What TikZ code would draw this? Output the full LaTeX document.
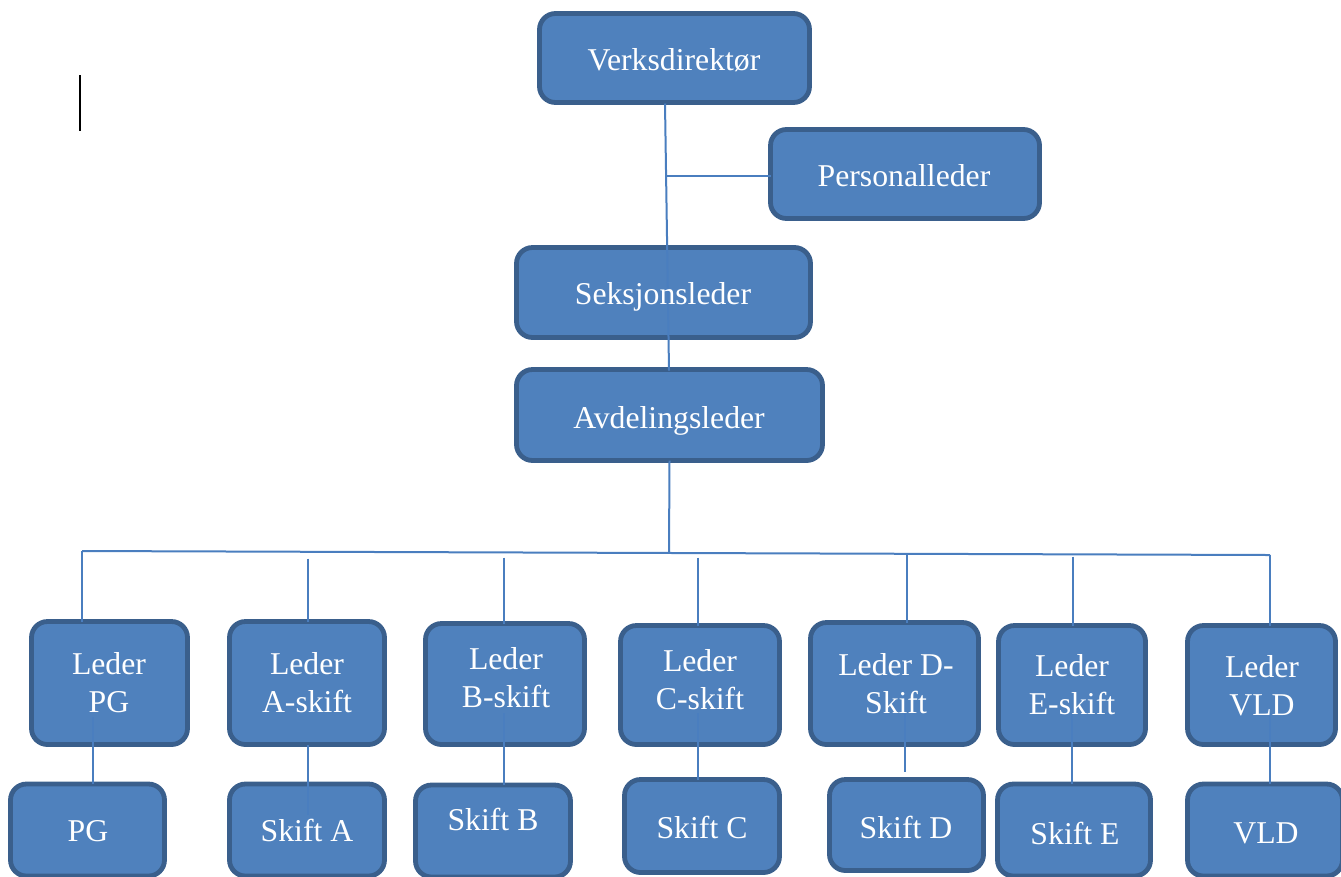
\documentclass[tikz,border=0pt]{standalone}
\usepackage{fontspec}
\setmainfont{Liberation Serif}
\usetikzlibrary{calc}
\definecolor{boxfill}{HTML}{4F81BD}
\definecolor{boxedge}{HTML}{3A5F8C}
\definecolor{linkblue}{HTML}{4A7EBF}
\tikzset{
  orgbox/.style 2 args={draw=boxedge, fill=boxfill, line width=3.6pt,
    rounded corners=12pt, minimum width=#1*0.75pt, minimum height=#2*0.75pt,
    inner sep=0pt, outer sep=0pt},
  boxtext/.style={text=white, font=\fontsize{23.8pt}{28.5pt}\selectfont,
    align=center, inner sep=0pt},
  link/.style={draw=linkblue, line width=1.5pt},
}
\begin{document}
\begin{tikzpicture}[x=0.75pt,y=-0.75pt]
\useasboundingbox (0,0) rectangle (1341,876);
\clip (0,0) rectangle (1341,876);

% upper chain
\node[orgbox={270}{89}] (verk) at (674.5,58) {};
\node[orgbox={269}{89}] (pers) at (905,174) {};
\node[orgbox={294}{90}] (seks) at (663.5,292.5) {};
\node[orgbox={306}{91}] (avd)  at (669.5,415) {};

% team leaders
\node[orgbox={156}{123}] (lpg) at (109.5,683) {};
\node[orgbox={155}{123}] (la)  at (307,683) {};
\node[orgbox={159}{121}] (lb)  at (505,684) {};
\node[orgbox={159}{119}] (lc)  at (700,685) {};
\node[orgbox={168}{122}] (ld)  at (894.5,683.5) {};
\node[orgbox={147}{119}] (le)  at (1072,685) {};
\node[orgbox={148}{119}] (lv)  at (1261.5,685) {};

% teams
\node[orgbox={154}{92}] (pg) at (87.5,830) {};
\node[orgbox={155}{92}] (sa) at (307,830) {};
\node[orgbox={155}{92}] (sb) at (493,831) {};
\node[orgbox={155}{93}] (sc) at (702,826) {};
\node[orgbox={154}{91}] (sd) at (906.5,825) {};
\node[orgbox={153}{92}] (se) at (1074,830) {};
\node[orgbox={155}{92}] (sv) at (1265,830) {};

% bus line and junctions
\coordinate (busL) at (82,551);
\coordinate (busR) at (1270,555);
\coordinate (busM) at (669,553);
\coordinate (persJ) at (666,176);

% connectors
\draw[link] ($(verk.south)+(-9.5,1)$) -- ($(avd.north)+(-0.5,1)$);
\draw[link] (persJ) -- (persJ -| pers.west);
\draw[link] (avd.south) -- (busM);
\draw[link] (busL) -- (busR);

\draw[link] (busL) -- ($(lpg.north)+(-27.5,0)$);
\draw[link] ($(la.north)+(1,-63)$) -- ($(la.north)+(1,0)$);
\draw[link] ($(lb.north)+(-1,-66)$) -- ($(lb.north)+(-1,0)$);
\draw[link] ($(lc.north)+(-2,-68)$) -- ($(lc.north)+(-2,0)$);
\draw[link] ($(ld.north)+(12.5,-68)$) -- ($(ld.north)+(12.5,0)$);
\draw[link] ($(le.north)+(1,-69)$) -- ($(le.north)+(1,0)$);
\draw[link] (busR) -- ($(lv.north)+(8.5,0)$);

\draw[link] ($(lpg.center)+(-16.5,34)$) -- ($(pg.north)+(5.5,0)$);
\draw[link] ($(la.south)+(1,0)$) -- ($(sa.north)+(1,31)$);
\draw[link] ($(lb.center)+(-1,29)$) -- ($(sb.north)+(11,0)$);
\draw[link] ($(lc.center)+(-2,28)$) -- ($(sc.north)+(-4,0)$);
\draw[link] ($(ld.center)+(10.5,29.5)$) -- ($(sd.north)+(-1.5,-8)$);
\draw[link] ($(le.center)+(0,28)$) -- ($(se.north)+(-2,0)$);
\draw[link] ($(lv.center)+(8.5,28)$) -- ($(sv.north)+(5,0)$);

% labels
\node[boxtext] (tverk) at (674,60) {Verksdirektør};
\node[boxtext] (tpers) at (904,176) {Personalleder};
\node[boxtext] (tseks) at (663,296.5) {Seksjonsleder};
\node[boxtext] (tavd)  at (669,420.5) {Avdelingsleder};

\node[boxtext] (tlpg) at (109,683) {Leder\\PG};
\node[boxtext] (tla)  at (307,683) {Leder\\A-skift};
\node[boxtext] (tlb)  at (506,677.5) {Leder\\B-skift};
\node[boxtext] (tlc)  at (700,679.5) {Leder\\C-skift};
\node[boxtext] (tld)  at (896,684) {Leder D-\\Skift};
\node[boxtext] (tle)  at (1072,685) {Leder\\E-skift};
\node[boxtext] (tlv)  at (1262,686) {Leder\\VLD};

\node[boxtext] (tpg) at (88,831) {PG};
\node[boxtext] (tsa) at (307,830.5) {Skift A};
\node[boxtext] (tsb) at (493,819) {Skift B};
\node[boxtext] (tsc) at (702,827) {Skift C};
\node[boxtext] (tsd) at (906,827) {Skift D};
\node[boxtext] (tse) at (1075,833) {Skift E};
\node[boxtext] (tsv) at (1266,833) {VLD};

% text cursor mark
\coordinate (curT) at (80,75);
\coordinate (curB) at (80,131);
\draw[black, line width=1.6pt] (curT) -- (curB);
\end{tikzpicture}
\end{document}
